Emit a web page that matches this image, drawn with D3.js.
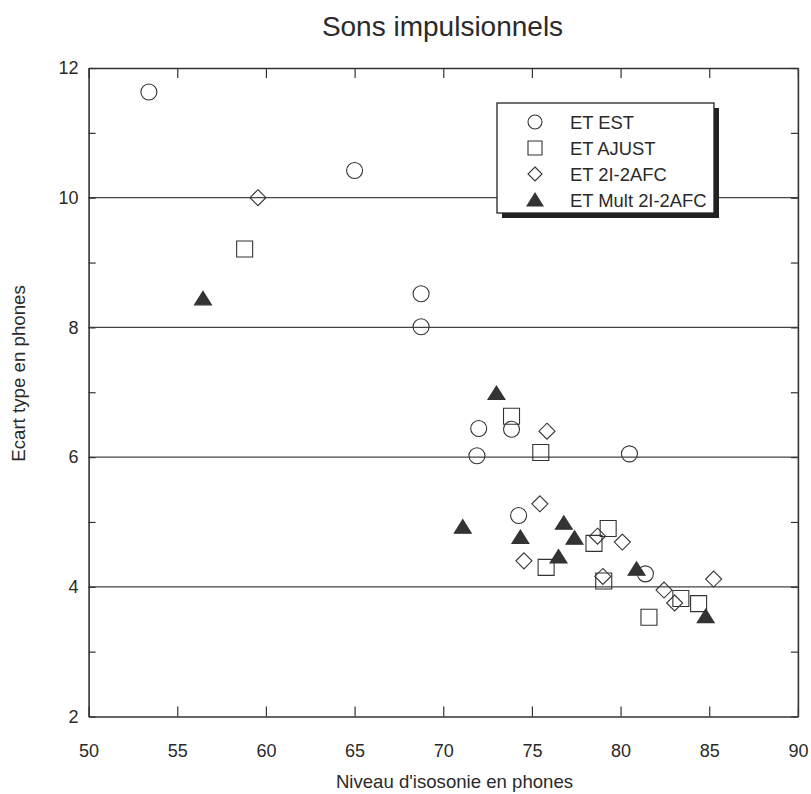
<!DOCTYPE html>
<html>
<head>
<meta charset="utf-8">
<script src="https://cdn.jsdelivr.net/npm/d3@7"></script>
<style>
  body { margin: 0; background: #fff; }
  svg { display: block; }
  text { font-family: "Liberation Sans", Arial, Helvetica, sans-serif; fill: #2a2a2a; }
</style>
</head>
<body>
<svg id="chart" width="811" height="794"></svg>
<script>
// Niveau d'isosonie (phones) et écart type (phones) pour chaque méthode
const estX   = [53.4, 65.0, 68.75, 68.75, 72.0, 73.85, 71.9, 80.5, 74.25, 81.4];
const estY   = [11.63, 10.42, 8.52, 8.01, 6.44, 6.43, 6.02, 6.05, 5.10, 4.20];

const ajustX = [58.8, 73.85, 75.5, 79.3, 78.5, 75.8, 79.05, 83.4, 84.4, 81.6];
const ajustY = [9.21, 6.63, 6.07, 4.90, 4.67, 4.30, 4.09, 3.82, 3.74, 3.53];

const afcX   = [59.55, 75.85, 75.45, 78.7, 80.1, 74.55, 79.0, 82.45, 83.05, 85.25];
const afcY   = [10.0, 6.40, 5.28, 4.78, 4.69, 4.40, 4.16, 3.95, 3.75, 4.12];

const multX  = [56.45, 73.0, 71.1, 76.8, 74.35, 77.4, 76.5, 80.9, 84.8];
const multY  = [8.44, 6.98, 4.92, 4.98, 4.76, 4.75, 4.46, 4.27, 3.54];

const seriesNames = ["ET EST", "ET AJUST", "ET 2I-2AFC", "ET Mult 2I-2AFC"];
const xTicks = [50, 55, 60, 65, 70, 75, 80, 85, 90];
const yTicks = [2, 4, 6, 8, 10, 12];
const yMinorTicks = [3, 5, 7, 9, 11];
const gridValues = [4, 6, 8, 10];

const svg = d3.select("#chart");
const plotL = 88.6, plotR = 797.9, plotT = 68, plotB = 716.5;
const ink = "#333";

const x = d3.scaleLinear().domain([50, 90]).range([plotL, plotR]);
const y = d3.scaleLinear().domain([2, 12]).range([plotB, plotT]);

// horizontal grid lines
svg.append("g").selectAll("line").data(gridValues).join("line")
  .attr("x1", plotL).attr("x2", plotR)
  .attr("y1", d => y(d)).attr("y2", d => y(d))
  .attr("stroke", "#444").attr("stroke-width", 1.3);

// axes: ticks pointing inward on all four sides
const bottomAxis = d3.axisBottom(x).tickValues(xTicks).tickSizeInner(-10).tickSizeOuter(0).tickPadding(28);
const topAxis = d3.axisTop(x).tickValues(xTicks).tickSizeInner(-10).tickSizeOuter(0).tickFormat("");
const leftAxis = d3.axisLeft(y).tickValues(yTicks.concat(yMinorTicks)).tickSizeInner(-7).tickSizeOuter(0)
  .tickFormat(d => yTicks.includes(d) ? d : "").tickPadding(10);
const rightAxis = d3.axisRight(y).tickValues(yTicks.concat(yMinorTicks)).tickSizeInner(-7).tickSizeOuter(0).tickFormat("");

function style(g) {
  g.select(".domain").attr("stroke", ink).attr("stroke-width", 1.6);
  g.selectAll(".tick line").attr("stroke", ink).attr("stroke-width", 1.2);
  g.selectAll(".tick text").attr("font-size", 18).attr("fill", "#2a2a2a")
    .attr("font-family", "'Liberation Sans', Arial, sans-serif");
}
svg.append("g").attr("transform", `translate(0,${plotB})`).call(bottomAxis).call(style);
svg.append("g").attr("transform", `translate(0,${plotT})`).call(topAxis).call(style);
svg.append("g").attr("transform", `translate(${plotL},0)`).call(leftAxis).call(style);
svg.append("g").attr("transform", `translate(${plotR},0)`).call(rightAxis).call(style);

// markers
const symCircle = d3.symbol().type(d3.symbolCircle).size(Math.PI * 8 * 8)();
const symSquare = d3.symbol().type(d3.symbolSquare).size(16 * 16)();
const symDiamond = "M0,-8L8,0L0,8L-8,0Z";
const symTriangle = "M0,-7.5L8.5,6L-8.5,6Z";

const series = [
  { xs: estX, ys: estY, path: symCircle, fill: "none" },
  { xs: ajustX, ys: ajustY, path: symSquare, fill: "none" },
  { xs: afcX, ys: afcY, path: symDiamond, fill: "none" },
  { xs: multX, ys: multY, path: symTriangle, fill: ink }
];

series.forEach(s => {
  svg.append("g").selectAll("path").data(s.xs.map((v, i) => [v, s.ys[i]])).join("path")
    .attr("d", s.path)
    .attr("transform", d => `translate(${x(d[0])},${y(d[1])})`)
    .attr("fill", s.fill)
    .attr("stroke", ink).attr("stroke-width", 1.1);
});

// legend box with drop shadow
const lg = svg.append("g");
const lx = 497, ly = 103, lw = 217, lh = 110;
lg.append("rect").attr("x", lx + 5).attr("y", ly + 5).attr("width", lw).attr("height", lh).attr("fill", "#222");
lg.append("rect").attr("x", lx).attr("y", ly).attr("width", lw).attr("height", lh)
  .attr("fill", "#fff").attr("stroke", "#222").attr("stroke-width", 1.3);
const legendSyms = [
  d3.symbol().type(d3.symbolCircle).size(Math.PI * 7 * 7)(),
  d3.symbol().type(d3.symbolSquare).size(14 * 14)(),
  "M0,-7L7,0L0,7L-7,0Z",
  "M0,-7L8,6L-8,6Z"
];
seriesNames.forEach((name, i) => {
  const ry = ly + 19 + i * 26;
  lg.append("path").attr("d", legendSyms[i]).attr("transform", `translate(535,${ry})`)
    .attr("fill", series[i].fill).attr("stroke", ink).attr("stroke-width", 1.1);
  lg.append("text").attr("x", 570).attr("y", ry + 6.5).attr("font-size", 18.4).text(name);
});

// titles
svg.append("text").attr("x", 442.5).attr("y", 36).attr("text-anchor", "middle")
  .attr("font-size", 28).text("Sons impulsionnels");
svg.append("text").attr("x", 454.5).attr("y", 788).attr("text-anchor", "middle")
  .attr("font-size", 18.6).text("Niveau d'isosonie en phones");
svg.append("text").attr("transform", `translate(25,373.5) rotate(-90)`)
  .attr("text-anchor", "middle").attr("font-size", 18.7).text("Ecart type en phones");
</script>
</body>
</html>
